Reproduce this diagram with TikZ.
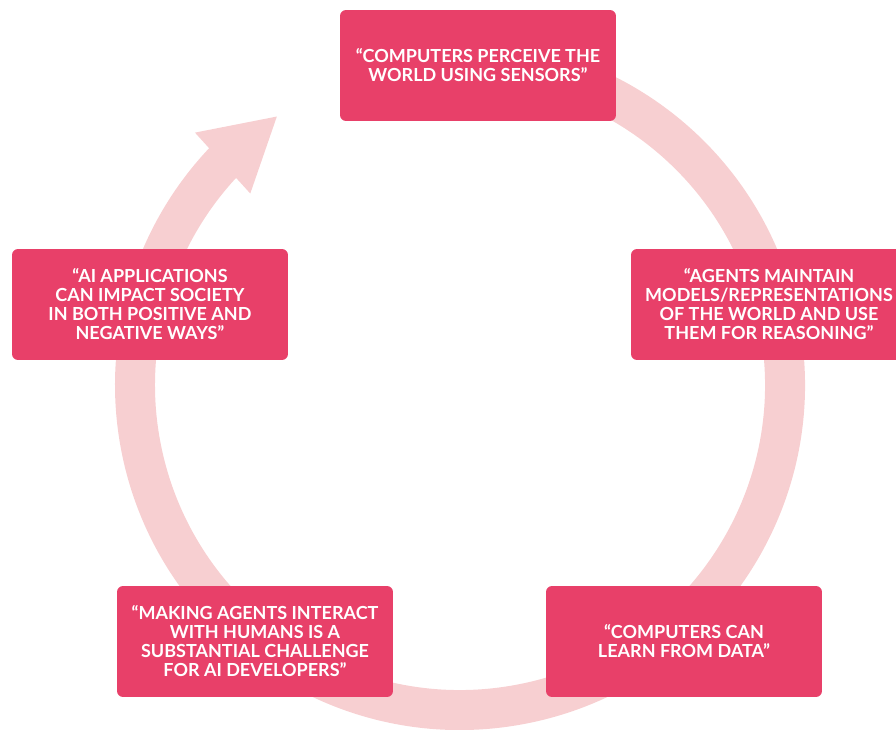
\documentclass[tikz,border=0pt]{standalone}
\usepackage{fontspec}
\setmainfont{Lato}
\definecolor{quoteRed}{RGB}{232,64,105}
\definecolor{ringPink}{RGB}{247,207,209}
\usetikzlibrary{positioning}

\begin{document}
\begin{tikzpicture}[x=0.02cm, y=0.02cm,
    quotebox/.style={rectangle, rounded corners=3.4pt, fill=quoteRed, text=white,
          minimum width=5.52cm, minimum height=2.22cm, inner sep=0pt, align=center,
          font=\fontsize{10.25}{10.8}\selectfont\bfseries}]
  \useasboundingbox (-460,-345) rectangle (436,385);
  % the cycle ring and its arrow head
  \draw[ringPink, line width=0.8cm] (100:325) arc[start angle=100, end angle=-224, radius=325];
  \fill[ringPink] (124.3:325) -- (136.4:366) -- (137.6:284) -- cycle;

  \node[quotebox] (perceive) at (18,319.5) {“COMPUTERS PERCEIVE THE\\WORLD USING SENSORS”};
  \node[quotebox] (models) at (309,80.5) {“AGENTS MAINTAIN\\MODELS/REPRESENTATIONS\\OF THE WORLD AND USE\\THEM FOR REASONING”};
  \node[quotebox] (learn) at (224,-256.5) {“COMPUTERS CAN\\LEARN FROM DATA”};
  \node[quotebox] (interact) at (-205,-256.5) {“MAKING AGENTS INTERACT\\WITH HUMANS IS A\\SUBSTANTIAL CHALLENGE\\FOR AI DEVELOPERS”};
  \node[quotebox] (impact) at (-310,80.5) {“AI APPLICATIONS\\CAN IMPACT SOCIETY\\IN BOTH POSITIVE AND\\NEGATIVE WAYS”};
\end{tikzpicture}
\end{document}
